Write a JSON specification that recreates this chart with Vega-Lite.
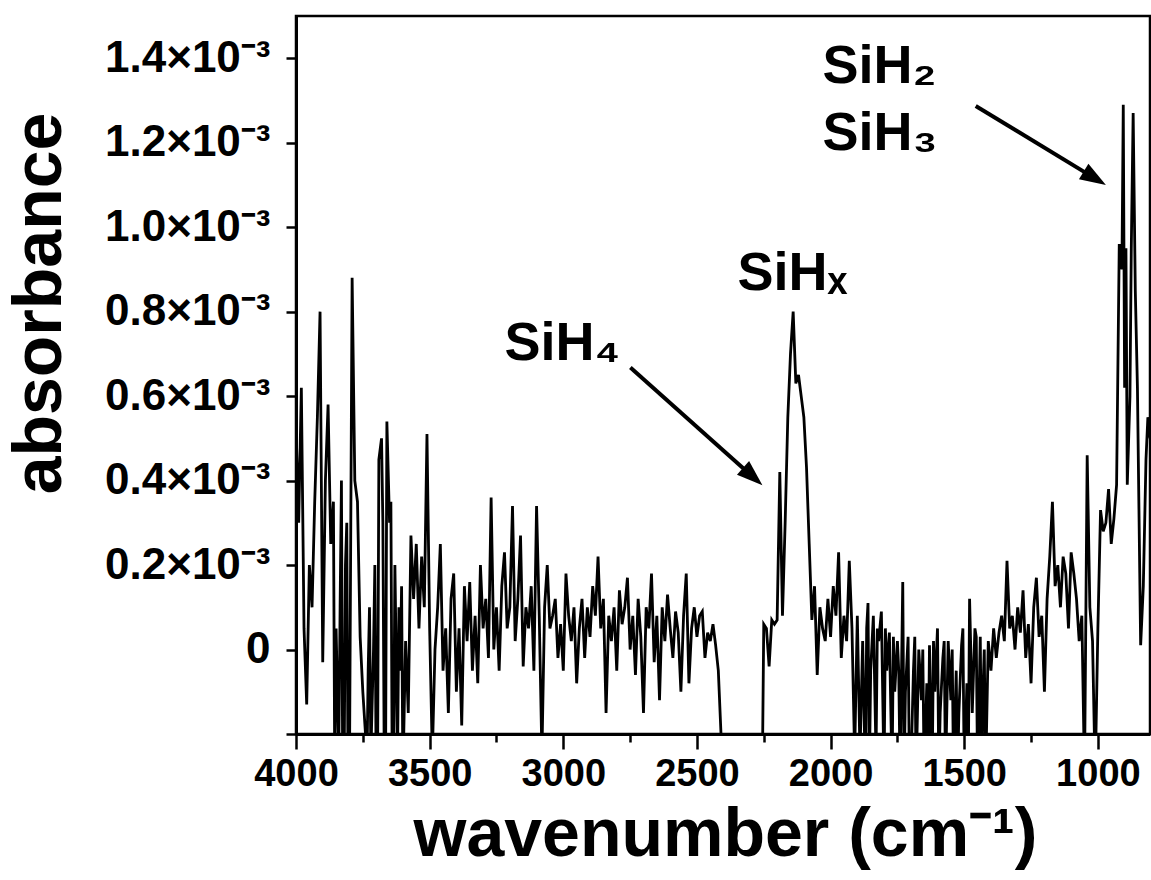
{
"$schema": "https://vega.github.io/schema/vega-lite/v6.json",
"width": 854, "height": 718,
"autosize": {"type": "none"},
"padding": {"left": 296, "top": 16, "right": 1, "bottom": 146},
"background": "white",
"config": {
  "font": "Liberation Sans",
  "view": {"stroke": "#000", "strokeWidth": 2.5},
  "axis": {"domainColor": "#000", "domainWidth": 3, "tickColor": "#000", "tickWidth": 2.5, "labelColor": "#000", "titleColor": "#000", "labelFont": "Liberation Sans", "labelFontWeight": "bold", "titleFont": "Liberation Sans", "titleFontWeight": "bold", "grid": false}
},
"layer": [
{
"data": {"values": [
{"w":4000,"a":0.53},{"w":3990,"a":0.30},{"w":3980,"a":0.62},{"w":3970,"a":0.05},{"w":3960,"a":-0.13},{"w":3950,"a":0.20},{"w":3940,"a":0.10},{"w":3930,"a":0.35},{"w":3920,"a":0.55},{"w":3910,"a":0.80},
{"w":3900,"a":-0.03},{"w":3890,"a":0.40},{"w":3880,"a":0.58},{"w":3870,"a":0.25},{"w":3860,"a":0.35},{"w":3855,"a":-0.30},{"w":3850,"a":0.05},{"w":3840,"a":-0.25},{"w":3835,"a":0.10},{"w":3830,"a":0.40},{"w":3825,"a":-0.35},{"w":3820,"a":-0.30},{"w":3815,"a":0.20},{"w":3810,"a":0.30},
{"w":3805,"a":-0.35},{"w":3800,"a":-0.30},{"w":3795,"a":0.30},{"w":3790,"a":0.88},{"w":3780,"a":0.40},{"w":3770,"a":0.35},{"w":3760,"a":0.03},{"w":3750,"a":-0.10},{"w":3740,"a":-0.20},{"w":3735,"a":-0.30},{"w":3730,"a":-0.05},{"w":3725,"a":0.10},{"w":3720,"a":-0.25},{"w":3710,"a":0.00},
{"w":3705,"a":0.20},{"w":3700,"a":-0.30},{"w":3695,"a":-0.30},{"w":3690,"a":0.45},{"w":3680,"a":0.50},{"w":3675,"a":0.30},{"w":3670,"a":-0.25},{"w":3665,"a":-0.30},{"w":3660,"a":0.54},{"w":3650,"a":0.30},{"w":3645,"a":0.35},{"w":3640,"a":-0.30},{"w":3635,"a":-0.30},{"w":3630,"a":0.20},{"w":3620,"a":-0.25},{"w":3615,"a":0.10},{"w":3610,"a":-0.05},{"w":3605,"a":0.15},
{"w":3600,"a":-0.30},{"w":3590,"a":0.02},{"w":3580,"a":-0.15},{"w":3570,"a":0.27},{"w":3560,"a":0.12},{"w":3550,"a":0.25},{"w":3540,"a":0.05},{"w":3530,"a":0.22},{"w":3520,"a":0.10},{"w":3510,"a":0.51},
{"w":3500,"a":0.05},{"w":3490,"a":-0.25},{"w":3480,"a":0.00},{"w":3470,"a":0.10},{"w":3460,"a":0.25},{"w":3450,"a":-0.05},{"w":3440,"a":0.05},{"w":3430,"a":-0.15},{"w":3420,"a":0.12},{"w":3410,"a":0.18},
{"w":3400,"a":-0.10},{"w":3390,"a":0.05},{"w":3380,"a":-0.18},{"w":3370,"a":0.15},{"w":3360,"a":0.02},{"w":3350,"a":0.16},{"w":3340,"a":-0.05},{"w":3330,"a":0.08},{"w":3320,"a":-0.08},{"w":3310,"a":0.20},
{"w":3300,"a":0.05},{"w":3290,"a":0.12},{"w":3280,"a":-0.02},{"w":3270,"a":0.36},{"w":3260,"a":0.00},{"w":3250,"a":0.10},{"w":3240,"a":-0.05},{"w":3230,"a":0.15},{"w":3220,"a":0.23},{"w":3210,"a":0.05},
{"w":3200,"a":0.10},{"w":3190,"a":0.34},{"w":3180,"a":0.02},{"w":3170,"a":0.12},{"w":3160,"a":0.27},{"w":3150,"a":-0.04},{"w":3140,"a":0.10},{"w":3130,"a":0.05},{"w":3120,"a":0.15},{"w":3110,"a":-0.05},
{"w":3100,"a":0.34},{"w":3090,"a":0.08},{"w":3080,"a":-0.25},{"w":3070,"a":0.10},{"w":3060,"a":0.20},{"w":3050,"a":0.05},{"w":3040,"a":0.08},{"w":3030,"a":0.12},{"w":3020,"a":-0.02},{"w":3010,"a":0.06},
{"w":3000,"a":-0.05},{"w":2990,"a":0.18},{"w":2980,"a":0.08},{"w":2970,"a":0.02},{"w":2960,"a":0.10},{"w":2950,"a":-0.08},{"w":2940,"a":0.05},{"w":2930,"a":0.12},{"w":2920,"a":-0.02},{"w":2910,"a":0.10},
{"w":2900,"a":0.03},{"w":2890,"a":0.15},{"w":2880,"a":0.08},{"w":2870,"a":0.22},{"w":2860,"a":0.05},{"w":2850,"a":0.12},{"w":2840,"a":-0.15},{"w":2830,"a":0.08},{"w":2820,"a":0.02},{"w":2810,"a":0.10},
{"w":2800,"a":-0.05},{"w":2790,"a":0.14},{"w":2780,"a":0.06},{"w":2770,"a":0.10},{"w":2760,"a":0.17},{"w":2750,"a":0.00},{"w":2740,"a":0.08},{"w":2730,"a":-0.06},{"w":2720,"a":0.12},{"w":2710,"a":0.03},
{"w":2700,"a":-0.15},{"w":2690,"a":0.10},{"w":2680,"a":0.05},{"w":2670,"a":0.18},{"w":2660,"a":-0.03},{"w":2650,"a":0.08},{"w":2640,"a":-0.12},{"w":2630,"a":0.10},{"w":2620,"a":0.02},{"w":2610,"a":0.13},
{"w":2600,"a":0.05},{"w":2590,"a":-0.02},{"w":2580,"a":0.09},{"w":2570,"a":0.04},{"w":2560,"a":-0.10},{"w":2550,"a":0.08},{"w":2540,"a":0.18},{"w":2530,"a":-0.08},{"w":2520,"a":0.05},{"w":2510,"a":0.10},
{"w":2500,"a":0.03},{"w":2490,"a":0.08},{"w":2480,"a":0.09},{"w":2470,"a":-0.02},{"w":2460,"a":0.04},{"w":2450,"a":0.02},{"w":2440,"a":0.06},{"w":2430,"a":0.01},{"w":2420,"a":-0.05},{"w":2410,"a":-0.20},
{"w":2400,"a":-0.45},{"w":2390,"a":-0.60},{"w":2260,"a":-0.60},{"w":2250,"a":0.06},{"w":2240,"a":0.05},{"w":2230,"a":-0.04},{"w":2220,"a":0.07},{"w":2210,"a":0.06},{"w":2200,"a":0.07},{"w":2190,"a":0.42},
{"w":2180,"a":0.08},{"w":2170,"a":0.30},{"w":2160,"a":0.55},{"w":2150,"a":0.70},{"w":2140,"a":0.80},{"w":2130,"a":0.63},{"w":2120,"a":0.65},{"w":2110,"a":0.60},{"w":2100,"a":0.55},{"w":2090,"a":0.43},
{"w":2080,"a":0.25},{"w":2070,"a":0.07},{"w":2060,"a":0.15},{"w":2050,"a":-0.06},{"w":2040,"a":0.10},{"w":2030,"a":0.05},{"w":2020,"a":0.02},{"w":2010,"a":0.12},{"w":2000,"a":0.03},{"w":1990,"a":0.15},
{"w":1980,"a":0.08},{"w":1970,"a":0.23},{"w":1960,"a":-0.02},{"w":1950,"a":0.08},{"w":1940,"a":0.02},{"w":1930,"a":0.21},{"w":1920,"a":0.05},{"w":1910,"a":-0.25},{"w":1900,"a":0.08},{"w":1890,"a":-0.25},
{"w":1880,"a":0.02},{"w":1870,"a":-0.30},{"w":1865,"a":0.05},{"w":1860,"a":0.11},{"w":1855,"a":-0.30},{"w":1850,"a":-0.05},{"w":1840,"a":0.08},{"w":1830,"a":-0.25},{"w":1825,"a":0.05},{"w":1820,"a":0.02},{"w":1810,"a":0.09},{"w":1800,"a":-0.30},{"w":1795,"a":0.05},{"w":1790,"a":-0.05},
{"w":1780,"a":0.04},{"w":1770,"a":-0.30},{"w":1765,"a":0.03},{"w":1760,"a":-0.10},{"w":1750,"a":0.02},{"w":1745,"a":-0.05},{"w":1740,"a":-0.30},{"w":1730,"a":0.16},{"w":1725,"a":-0.30},{"w":1720,"a":-0.10},{"w":1710,"a":0.03},{"w":1705,"a":-0.30},{"w":1700,"a":-0.30},{"w":1690,"a":-0.05},
{"w":1685,"a":0.03},{"w":1680,"a":-0.30},{"w":1670,"a":0.00},{"w":1660,"a":-0.12},{"w":1655,"a":0.00},{"w":1650,"a":-0.30},{"w":1640,"a":-0.08},{"w":1635,"a":-0.30},{"w":1630,"a":0.01},{"w":1620,"a":-0.30},{"w":1615,"a":0.02},{"w":1610,"a":-0.10},{"w":1600,"a":0.05},{"w":1595,"a":-0.30},{"w":1590,"a":-0.15},
{"w":1580,"a":-0.02},{"w":1575,"a":0.02},{"w":1570,"a":-0.30},{"w":1560,"a":0.02},{"w":1550,"a":-0.12},{"w":1545,"a":0.00},{"w":1540,"a":-0.30},{"w":1530,"a":-0.05},{"w":1525,"a":-0.30},{"w":1520,"a":-0.15},{"w":1510,"a":0.01},{"w":1505,"a":0.05},{"w":1500,"a":-0.30},{"w":1490,"a":-0.08},
{"w":1485,"a":-0.30},{"w":1480,"a":0.12},{"w":1470,"a":-0.15},{"w":1460,"a":0.05},{"w":1455,"a":0.03},{"w":1450,"a":-0.30},{"w":1440,"a":0.03},{"w":1435,"a":-0.30},{"w":1430,"a":-0.10},{"w":1425,"a":0.00},{"w":1420,"a":-0.30},{"w":1410,"a":0.02},{"w":1400,"a":-0.05},{"w":1390,"a":0.05},
{"w":1380,"a":-0.02},{"w":1370,"a":0.04},{"w":1360,"a":0.08},{"w":1350,"a":0.02},{"w":1340,"a":0.21},{"w":1330,"a":0.05},{"w":1320,"a":0.08},{"w":1310,"a":0.00},{"w":1300,"a":0.10},{"w":1290,"a":0.04},
{"w":1280,"a":0.14},{"w":1270,"a":-0.02},{"w":1260,"a":0.06},{"w":1250,"a":-0.08},{"w":1240,"a":0.10},{"w":1230,"a":0.17},{"w":1220,"a":0.03},{"w":1210,"a":0.08},{"w":1200,"a":-0.10},{"w":1190,"a":0.12},
{"w":1180,"a":0.22},{"w":1170,"a":0.35},{"w":1160,"a":0.15},{"w":1150,"a":0.20},{"w":1140,"a":0.10},{"w":1130,"a":0.22},{"w":1120,"a":0.18},{"w":1110,"a":0.05},{"w":1100,"a":0.23},{"w":1090,"a":0.18},
{"w":1080,"a":0.12},{"w":1070,"a":0.02},{"w":1060,"a":0.08},{"w":1050,"a":-0.30},{"w":1040,"a":0.46},{"w":1030,"a":0.10},{"w":1020,"a":0.02},{"w":1010,"a":-0.30},{"w":1000,"a":0.05},{"w":990,"a":0.33},
{"w":980,"a":0.28},{"w":970,"a":0.30},{"w":960,"a":0.38},{"w":950,"a":0.25},{"w":940,"a":0.31},{"w":930,"a":0.39},{"w":920,"a":0.96},{"w":910,"a":0.90},{"w":905,"a":1.29},{"w":900,"a":0.62},
{"w":895,"a":0.95},{"w":890,"a":0.39},{"w":880,"a":0.60},{"w":875,"a":0.95},{"w":868,"a":1.27},{"w":860,"a":0.85},{"w":852,"a":0.62},{"w":840,"a":0.01},{"w":830,"a":0.15},{"w":820,"a":0.45},
{"w":813,"a":0.55},{"w":805,"a":0.50}
]},
"mark": {"type": "line", "color": "#000", "strokeWidth": 2.8, "clip": true},
"encoding": {
  "x": {"field": "w", "type": "quantitative",
    "scale": {"domain": [805, 4000], "reverse": true, "nice": false, "zero": false},
    "axis": {"title": "wavenumber (cm⁻¹)", "values": [4000,3750,3500,3250,3000,2750,2500,2250,2000,1750,1500,1250,1000],
      "labelExpr": "datum.value % 500 === 0 ? format(datum.value, 'd') : ''",
      "labelOverlap": false, "labelFlush": false, "labelBound": false, "labelFontSize": 38, "labelPadding": 6,
      "tickSize": {"condition": {"test": "datum.value % 500 === 0", "value": 15}, "value": 8},
      "titleFontSize": 68, "titleX": 429, "titleY": 121, "titleBaseline": "alphabetic", "titleAlign": "center"}},
  "y": {"field": "a", "type": "quantitative",
    "scale": {"domain": [-0.2, 1.5], "nice": false, "zero": false},
    "axis": {"title": "absorbance", "values": [-0.2,0,0.2,0.4,0.6,0.8,1.0,1.2,1.4],
      "labelExpr": "datum.value < -0.1 ? '' : (abs(datum.value) < 0.01 ? '0' : format(datum.value, '.1f') + '×10⁻³')",
      "labelFontSize": 44, "tickSize": 10, "labelPadding": 16, "labelOverlap": false, "labelFlush": false,
      "titleFontSize": 68, "titleAngle": -90, "titleX": -256, "titleY": 287, "titleBaseline": "middle", "titleAlign": "center"}}
}
},
{
"data": {"values": [{"w": 2787, "a": 0.685, "t": "SiH₄"}]},
"mark": {"type": "text", "align": "right", "baseline": "alphabetic", "fontSize": 54, "fontWeight": "bold", "font": "Liberation Sans", "color": "#000"},
"encoding": {"x": {"field": "w", "type": "quantitative"}, "y": {"field": "a", "type": "quantitative"}, "text": {"field": "t"}}
},
{
"data": {"values": [{"w": 2348, "a": 0.851, "t": "SiHₓ"}, {"w": 2030, "a": 1.341, "t": "SiH₂"}, {"w": 2030, "a": 1.182, "t": "SiH₃"}]},
"mark": {"type": "text", "align": "left", "baseline": "alphabetic", "fontSize": 54, "fontWeight": "bold", "font": "Liberation Sans", "color": "#000"},
"encoding": {"x": {"field": "w", "type": "quantitative"}, "y": {"field": "a", "type": "quantitative"}, "text": {"field": "t"}}
},
{
"data": {"values": [{"w": 2749, "a": 0.668, "w2": 2283, "a2": 0.4045}, {"w": 1457, "a": 1.287, "w2": 1002, "a2": 1.112}]},
"mark": {"type": "rule", "color": "#000", "strokeWidth": 4},
"encoding": {"x": {"field": "w", "type": "quantitative"}, "y": {"field": "a", "type": "quantitative"}, "x2": {"field": "w2"}, "y2": {"field": "a2"}}
},
{
"data": {"values": [{"w": 2255, "a": 0.389}]},
"mark": {"type": "point", "shape": "M0,0L-2,-0.7L-2,0.7Z", "filled": true, "color": "#000", "opacity": 1, "size": 676, "angle": 41.8},
"encoding": {"x": {"field": "w", "type": "quantitative"}, "y": {"field": "a", "type": "quantitative"}}
},
{
"data": {"values": [{"w": 970, "a": 1.10}]},
"mark": {"type": "point", "shape": "M0,0L-2,-0.7L-2,0.7Z", "filled": true, "color": "#000", "opacity": 1, "size": 676, "angle": 31.3},
"encoding": {"x": {"field": "w", "type": "quantitative"}, "y": {"field": "a", "type": "quantitative"}}
}
]
}
